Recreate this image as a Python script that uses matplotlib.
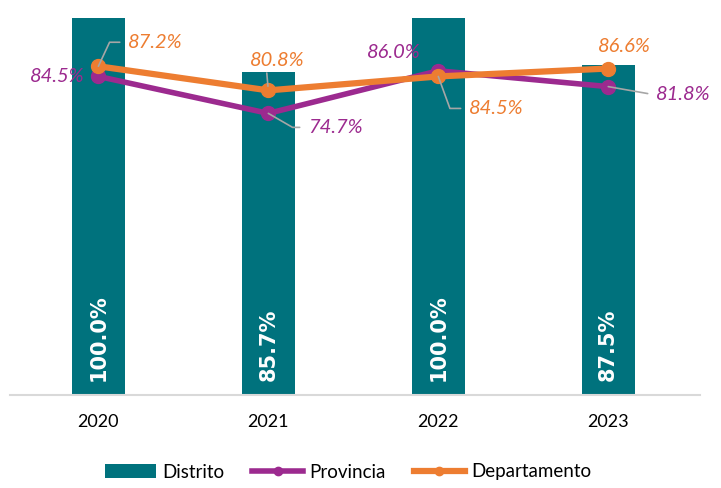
import matplotlib.pyplot as plt
import numpy as np

plt.rcParams['font.family'] = ['Lato', 'DejaVu Sans']

# datos
years = ['2020', '2021', '2022', '2023']
distrito = [100.0, 85.7, 100.0, 87.5]
provincia = [84.5, 74.7, 86.0, 81.8]
departamento = [87.2, 80.8, 84.5, 86.6]

c_bar = '#00727D'
c_prov = '#9C2A8F'
c_dep = '#ED7D31'
c_lead = '#A6A6A6'

fig = plt.figure(figsize=(7.21, 4.88), dpi=100)
ax = fig.add_axes([10 / 721, 1 - 395 / 488, 690 / 721, 377 / 488])
x = np.arange(len(years))

b = ax.bar(x, distrito, width=0.31, color=c_bar, label='Distrito', zorder=1)
lp, = ax.plot(x, provincia, color=c_prov, lw=4, marker='o', ms=10, label='Provincia', zorder=3)
ld, = ax.plot(x, departamento, color=c_dep, lw=4.5, marker='o', ms=10, label='Departamento', zorder=4)

ax.set_xlim(-0.52, 3.54)
ax.set_ylim(0, 100)
ax.set_xticks(x)
ax.set_xticklabels(years, fontsize=13)
ax.tick_params(axis='x', length=0, pad=14)
ax.set_yticks([])
for s in ['top', 'right', 'left']:
    ax.spines[s].set_visible(False)
ax.spines['bottom'].set_color('#D9D9D9')
ax.spines['bottom'].set_linewidth(1.5)

# etiquetas de las barras
for i, v in enumerate(distrito):
    ax.annotate(f'{v:.1f}%', (i, 0), xytext=(0, 10), textcoords='offset points',
                rotation=90, ha='center', va='bottom', color='white',
                fontsize=15, fontweight='bold', family='DejaVu Sans', zorder=5)

# etiquetas de las lineas: (dx, dy) en pixeles, angulo de la guia o None
px = 0.72
prov_pos = [(-41, 0, None), (67, -14, -30), (-44, 18, None), (75, -8, -10)]
dep_pos = [(57, 24, 65), (9, 30, 'straight'), (58, -32, -70), (16, 22, None)]


def etiquetas(vals, pos, color):
    for i, (v, (dx, dy, lead)) in enumerate(zip(vals, pos)):
        kw = {}
        if lead == 'straight':
            kw['arrowprops'] = dict(arrowstyle='-', color=c_lead, lw=1.2,
                                    shrinkA=1, shrinkB=3, relpos=(0.3, 0))
        elif lead is not None:
            kw['arrowprops'] = dict(arrowstyle='-', color=c_lead, lw=1.2,
                                    shrinkA=4, shrinkB=0, relpos=(0, 0.5),
                                    connectionstyle=f'angle,angleA=0,angleB={lead},rad=0')
        ax.annotate(f'{v:.1f}%', (i, v), xytext=(dx * px, dy * px),
                    textcoords='offset points', ha='center', va='center',
                    color=color, fontsize=14.5, fontstyle='italic', zorder=6, **kw)


etiquetas(provincia, prov_pos, c_prov)
etiquetas(departamento, dep_pos, c_dep)

leg = fig.legend([b, lp, ld], ['Distrito', 'Provincia', 'Departamento'],
                 loc='center', bbox_to_anchor=(0.483, 1 - 472 / 488), ncol=3,
                 frameon=False, fontsize=13.5, handlelength=2.7, columnspacing=1.5,
                 handletextpad=0.35, markerscale=0.6)

fig.savefig('out.png', dpi=100)
